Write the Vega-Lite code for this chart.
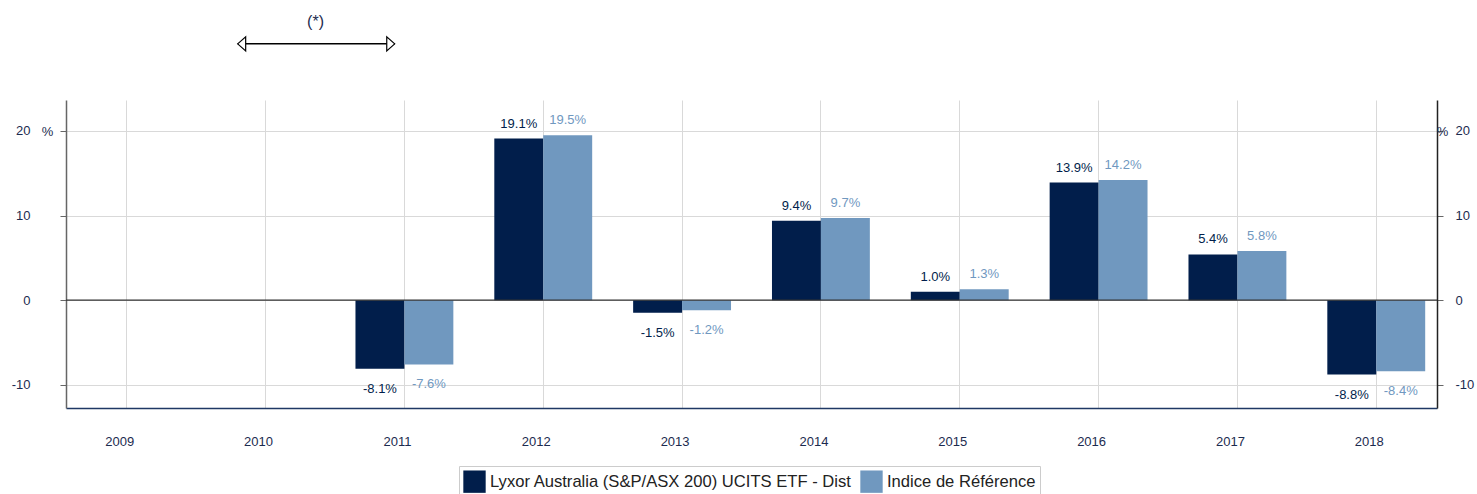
{
  "$schema": "https://vega.github.io/schema/vega-lite/v6.json",
  "autosize": "none",
  "width": 1371,
  "height": 308,
  "padding": {"left": 66, "top": 100, "right": 40, "bottom": 86},
  "background": "white",
  "config": {
    "font": "Liberation Sans",
    "view": {"stroke": null},
    "axis": {"labelFont": "Liberation Sans", "titleFont": "Liberation Sans"},
    "locale": {"number": {"decimal": ".", "thousands": ",", "grouping": [3], "currency": ["", ""], "minus": "-"}}
  },
  "datasets": {
    "perf": [
      {"year": 2011, "series": "Lyxor Australia (S&P/ASX 200) UCITS ETF - Dist", "value": -8.1},
      {"year": 2011, "series": "Indice de Référence", "value": -7.6},
      {"year": 2012, "series": "Lyxor Australia (S&P/ASX 200) UCITS ETF - Dist", "value": 19.1},
      {"year": 2012, "series": "Indice de Référence", "value": 19.5},
      {"year": 2013, "series": "Lyxor Australia (S&P/ASX 200) UCITS ETF - Dist", "value": -1.5},
      {"year": 2013, "series": "Indice de Référence", "value": -1.2},
      {"year": 2014, "series": "Lyxor Australia (S&P/ASX 200) UCITS ETF - Dist", "value": 9.4},
      {"year": 2014, "series": "Indice de Référence", "value": 9.7},
      {"year": 2015, "series": "Lyxor Australia (S&P/ASX 200) UCITS ETF - Dist", "value": 1.0},
      {"year": 2015, "series": "Indice de Référence", "value": 1.3},
      {"year": 2016, "series": "Lyxor Australia (S&P/ASX 200) UCITS ETF - Dist", "value": 13.9},
      {"year": 2016, "series": "Indice de Référence", "value": 14.2},
      {"year": 2017, "series": "Lyxor Australia (S&P/ASX 200) UCITS ETF - Dist", "value": 5.4},
      {"year": 2017, "series": "Indice de Référence", "value": 5.8},
      {"year": 2018, "series": "Lyxor Australia (S&P/ASX 200) UCITS ETF - Dist", "value": -8.8},
      {"year": 2018, "series": "Indice de Référence", "value": -8.4}
    ],
    "note": [
      {"start": 2009.81, "end": 2010.94, "mid": 2010.37, "label": "(*)"}
    ]
  },
  "layer": [
    {
      "resolve": {"scale": {"x": "independent"}},
      "layer": [
        {
          "data": {"name": "perf"},
          "encoding": {
            "x": {
              "field": "year",
              "type": "ordinal",
              "scale": {"domain": [2009, 2010, 2011, 2012, 2013, 2014, 2015, 2016, 2017, 2018], "paddingInner": 0.295, "paddingOuter": 0.085},
              "axis": {
                "title": null,
                "bandPosition": 0.5,
                "grid": true,
                "gridColor": "#d9d9d9",
                "gridWidth": 1,
                "ticks": false,
                "domainColor": "#1f3864",
                "domainWidth": 1.5,
                "labelAngle": 0,
                "labelPadding": 27,
                "labelOffset": -7,
                "labelFontSize": 13,
                "labelColor": "#1c2b4f"
              }
            },
            "xOffset": {"field": "series", "type": "nominal", "sort": ["Lyxor Australia (S&P/ASX 200) UCITS ETF - Dist", "Indice de Référence"], "scale": {"paddingInner": 0, "paddingOuter": 0}},
            "y": {
              "field": "value",
              "type": "quantitative",
              "scale": {"domain": [-12.75, 23.66], "nice": false, "zero": false},
              "axis": {
                "title": "%",
                "titleAngle": 0,
                "titleX": -19,
                "titleY": 31,
                "titleAlign": "center",
                "titleBaseline": "middle",
                "titleFontSize": 13,
                "titleFontWeight": "normal",
                "titleColor": "#1c2b4f",
                "values": [-10, 0, 10, 20],
                "grid": true,
                "gridColor": "#d9d9d9",
                "domainColor": "#666666",
                "domainWidth": 1.5,
                "tickColor": "#666666",
                "tickSize": 6,
                "labelPadding": 30,
                "labelFontSize": 13,
                "labelColor": "#1c2b4f"
              }
            },
            "color": {
              "field": "series",
              "type": "nominal",
              "sort": ["Lyxor Australia (S&P/ASX 200) UCITS ETF - Dist", "Indice de Référence"],
              "scale": {"domain": ["Lyxor Australia (S&P/ASX 200) UCITS ETF - Dist", "Indice de Référence"], "range": ["#011e4b", "#7098bf"]},
              "legend": {
                "title": null,
                "orient": "none",
                "direction": "horizontal",
                "legendX": 393,
                "legendY": 366,
                "strokeColor": "#cccccc",
                "padding": 4,
                "symbolType": "square",
                "symbolSize": 500,
                "symbolStrokeWidth": 0,
                "symbolOpacity": 1,
                "labelFontSize": 16.6,
                "labelColor": "#222222",
                "labelOffset": 4,
                "columnPadding": 8,
                "labelLimit": 500
              }
            }
          },
          "layer": [
            {"mark": {"type": "bar", "opacity": 1}},
            {
              "transform": [{"filter": "datum.value >= 0"}],
              "mark": {"type": "text", "baseline": "middle", "dy": -15, "fontSize": 13, "text": {"expr": "format(datum.value, '.1f') + '%'"}}
            },
            {
              "transform": [{"filter": "datum.value < 0"}],
              "mark": {"type": "text", "baseline": "middle", "dy": 20, "fontSize": 13, "text": {"expr": "format(datum.value, '.1f') + '%'"}}
            }
          ]
        },
        {
          "data": {"name": "note"},
          "encoding": {
            "y": {"datum": 30.3, "type": "quantitative"}
          },
          "layer": [
            {
              "mark": {"type": "rule", "color": "#000000", "strokeWidth": 1.5, "clip": false},
              "encoding": {
                "x": {"field": "start", "type": "quantitative", "scale": {"domain": [2008.575, 2018.438], "nice": false, "zero": false}, "axis": null},
                "x2": {"field": "end"}
              }
            },
            {
              "mark": {"type": "point", "shape": "M0,0L1,-0.875L1,0.875Z", "size": 256, "filled": true, "fill": "white", "stroke": "#000000", "strokeWidth": 1.2, "opacity": 1, "clip": false},
              "encoding": {
                "x": {"field": "start", "type": "quantitative", "scale": {"domain": [2008.575, 2018.438], "nice": false, "zero": false}, "axis": null}
              }
            },
            {
              "mark": {"type": "point", "shape": "M0,0L-1,-0.875L-1,0.875Z", "size": 256, "filled": true, "fill": "white", "stroke": "#000000", "strokeWidth": 1.2, "opacity": 1, "clip": false},
              "encoding": {
                "x": {"field": "end", "type": "quantitative", "scale": {"domain": [2008.575, 2018.438], "nice": false, "zero": false}, "axis": null}
              }
            },
            {
              "mark": {"type": "text", "fontSize": 16, "color": "#1c2b4f", "baseline": "middle", "clip": false},
              "encoding": {
                "x": {"field": "mid", "type": "quantitative", "scale": {"domain": [2008.575, 2018.438], "nice": false, "zero": false}, "axis": null},
                "y": {"datum": 32.9, "type": "quantitative"},
                "text": {"field": "label"}
              }
            }
          ]
        }
      ]
    },
    {
      "data": {"values": [{"base": 0}]},
      "mark": {"type": "rule", "color": "#333333", "strokeWidth": 1.2},
      "encoding": {
        "y": {
          "field": "base",
          "type": "quantitative",
          "scale": {"domain": [-12.75, 23.66], "nice": false, "zero": false},
          "axis": {
            "orient": "right",
            "title": "%",
            "titleAngle": 0,
            "titleX": 5,
            "titleY": 31,
            "titleAlign": "center",
            "titleBaseline": "middle",
            "titleFontSize": 13,
            "titleFontWeight": "normal",
            "titleColor": "#1c2b4f",
            "values": [-10, 0, 10, 20],
            "grid": false,
            "domainColor": "#222222",
            "domainWidth": 1.5,
            "tickColor": "#666666",
            "tickSize": 6,
            "labelPadding": 12,
            "labelFontSize": 13,
            "labelColor": "#1c2b4f"
          }
        }
      }
    }
  ],
  "resolve": {"scale": {"y": "independent"}}
}
